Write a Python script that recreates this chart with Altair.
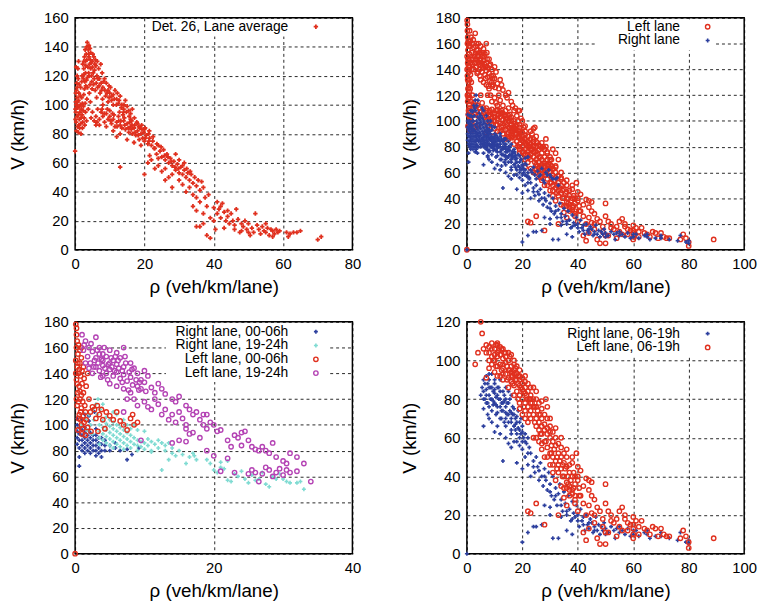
import altair as alt
import pandas as pd

# ---------------- data ----------------
# Panel 1: detector 26, lane average  (rho [veh/km/lane], V [km/h])
AVG = [
    (0.2,95),(0.3,100),(0.5,105),(0.4,110),(0.3,88),(0.6,92),(0.8,98),(1.0,103),(0.7,85),(1.2,90),
    (1.4,95),(1.1,108),(0.5,115),(0.9,118),(1.5,100),(1.8,97),(1.6,112),(2.0,93),(2.2,88),(1.9,105),
    (0.4,82),(1.3,84),(2.4,99),(2.6,91),(0.2,102),(0.1,97),(0.6,120),(2.8,86),(1.7,80),(3.0,95),
    (3.3,89),(2.5,107),(0.8,125),(1.0,130),(0.3,126),(0,68),(0.1,90),(0.9,93),(1.6,87),(2.1,101),
    (2,120),(2.5,125),(3,130),(3.2,135),(3.5,143),(3.8,138),(4,133),(4.2,128),(3,122),(4.5,125),
    (5,130),(5.2,122),(5.5,118),(6,127),(6.3,120),(6.8,125),(7,118),(7.5,115),(7.8,122),(8,112),
    (4.8,116),(3.6,112),(2.8,116),(4,120),(5.8,110),(6.5,112),(2.2,128),(4.5,136),(5,126),(3.3,117),
    (4.1,108),(6.2,105),(5.4,133),(2.7,133),(8.5,118),(9,115),(9.5,110),(7.2,108),(8.8,106),(3.7,126),
    (3.1,127),(4.4,131),(5.6,124),(6.6,118),(3.9,122),(4.7,120),(2.4,118),(7.4,128),(5.9,131),(4.3,139),
    (10,108),(10.5,103),(11,107),(11.5,110),(12,104),(12.5,101),(13,106),(13.5,100),(14,97),(14.5,103),
    (15,99),(15.5,96),(16,94),(11,100),(9.5,102),(12.8,95),(16.5,97),(10.2,112),(12.2,108),(9.8,105),
    (5,95),(6,92),(6.5,97),(7,90),(7.5,95),(8,92),(8.5,88),(9,94),(9.5,90),(10,92),
    (10.5,87),(11,90),(11.5,85),(12,88),(12.5,92),(13,86),(13.5,84),(14,89),(14.5,83),(15,87),
    (15.5,81),(16,85),(16.5,80),(17,84),(17.5,79),(18,82),(18.5,76),(19,80),(19.5,77),(20,75),
    (20.5,79),(21,73),(21.5,77),(22,72),(13,80),(11,82),(9,85),(7,86),(16,90),(18,87),
    (19,72),(12,78),(15,76),(17,74),(14,95),(20,83),(22.5,78),(6,86),(8,100),(10,96),(13,57),
    (10.8,94),(12.6,89),(14.2,91),(15.8,88),(17.2,86),(18.6,84),(19.8,81),(21.2,80),(13.8,93),(16.2,83),
    (0.5,98),(0.7,102),(1.1,86),(1.3,99),(1.7,91),(2.3,96),(2.9,101),(3.4,104),(0.2,108),(0.6,112),
    (1.2,114),(1.9,116),(2.6,121),(3.1,113),(3.6,119),(4.3,114),(4.9,111),(5.3,114),(6.1,115),(6.9,113),
    (7.6,110),(8.2,116),(3.4,131),(3.9,135),(4.6,129),(5.1,135),(5.7,128),(6.4,130),(2.9,138),(3.3,140),
    (4.0,141),(2.5,130),(7.9,104),(8.6,110),(9.2,108),(9.8,113),(10.6,106),(11.3,104),(11.9,100),(12.7,103),
    (13.3,98),(14.1,100),(14.8,95),(15.6,92),(16.3,89),(17.1,91),(17.8,88),(18.4,85),(19.2,86),(20.2,84),
    (21.4,82),(22.4,75),(7.8,97),(8.4,94),(9.3,97),(10.3,89),(11.2,93),(12.1,85),(13.2,89),(14.3,86),
    (15.3,84),(16.4,86),(17.3,81),(18.2,79),(19.3,83),(20.3,77),(21.3,75),(22.8,70),(23.6,73),(24.8,71),
    (25.8,65),(26.8,64),(27.8,61),(28.8,57),(29.8,56),(31.0,58),(32.2,56),(33.2,54),(5.5,89),(6.3,88),
    (4.6,91),(3.8,97),(4.4,102),(2.1,84),(0.9,81),(1.5,106),(2.7,111),
    (23,70),(23.5,66),(24,72),(24.5,68),(25,64),(25.5,69),(26,62),(26.5,66),(27,60),(27.5,63),
    (28,58),(28.5,61),(29,55),(29.5,59),(30,53),(30.5,57),(31,52),(31.5,55),(32,50),(32.5,53),
    (33,48),(33.5,52),(34,46),(34.5,50),(35,44),(21,60),(22,62),(23,56),(24,58),(25,54),
    (26,56),(27,50),(28,52),(29,66),(30,62),(31,45),(32,40),(33,43),(34,38),(26,48),
    (24,63),(21.5,65),(20,52),(28,43),(30,48),(31.5,60),(35.5,48),(36.5,47),(37,43),(36,41),(35,36),
    (34,30),(35,27),(36,33),(37,25),(38,30),(37.5,36),(38.5,38),(39,22),(36,16),(35,16),
    (37,18),(38,10),(39,8),(40,20),(40.5,14),(41,25),(41.5,28),(42,22),(42.5,32),(43,26),
    (43.5,20),(44,23),(44.5,18),(45,25),(45.5,20),(46,17),(46.5,28),(47,21),(47.5,12),(48,18),
    (48.5,16),(49,20),(49.5,14),(50,18),(50.5,10),(42,30),(41,33),(44,27),(43,15),(46,14),
    (48,13),(40,29),(51,15),(51.5,12),(52,25),(52.5,17),(53,14),(53.5,11),(54,16),(54.5,13),
    (55,12),(55.5,15),(56,10),(56.5,14),(57,13),(57.5,11),(58,14),(58.5,12),(59,13),(61,12),
    (61.5,9),(62,11),(63,12),(64,12),(65,13),(50,12),(55,18),(57,9),(70,7),(71,9),
]

# Panel 3 series (night hours)
RIGHT_00_06 = [
    (0.3,85),(0.3,90),(0.3,95),(0.3,100),(0.3,105),(0.6,68),(0.6,75),(0.6,82),(0.6,88),(0.6,93),(0.6,98),
    (1.0,80),(1.0,84),(1.0,88),(1.0,92),(1.0,96),(1.0,104),(1.4,78),(1.4,82),(1.4,86),(1.4,90),(1.4,94),
    (1.4,98),(1.4,108),(1.8,80),(1.8,84),(1.8,88),(1.8,92),(1.8,96),(2.2,78),(2.2,82),(2.2,86),(2.2,90),
    (2.2,94),(2.2,100),(2.6,80),(2.6,84),(2.6,88),(2.6,92),(3.0,76),(3.0,80),(3.0,84),(3.0,88),(3.0,92),
    (3.0,97),(3.4,78),(3.4,82),(3.4,86),(3.4,90),(3.8,75),(3.8,80),(3.8,85),(3.8,90),(4.3,80),(4.3,84),
    (4.3,88),(5.0,80),(5.0,84),(5.8,82),(5.8,86),(6.5,80),(7.5,73),(7.5,81),(8.2,77),(9.2,82),(2.0,103),
    (2.0,107),(2.8,110),
]
RIGHT_19_24 = [
    (1,100),(1.5,104),(2,108),(2.5,112),(3,116),(3.3,120),(1.8,96),(2.2,100),(2.7,104),(3.2,108),(3.6,112),
    (4,116),(3.5,85),(3.5,90),(3.5,95),(3.5,100),(4,88),(4,93),(4,98),(4,103),(4.5,86),(4.5,91),(4.5,96),
    (4.5,101),(4.5,106),(5,84),(5,89),(5,94),(5,99),(5,104),(5.5,82),(5.5,87),(5.5,92),(5.5,97),(5.5,102),
    (6,85),(6,90),(6,95),(6,100),(6.5,83),(6.5,88),(6.5,93),(6.5,98),(7,81),(7,86),(7,91),(7,96),(7.5,84),
    (7.5,89),(7.5,94),(8,82),(8,87),(8,92),(8.5,85),(8.5,90),(9,80),(9,84),(9,88),(9.5,83),(9.5,87),
    (10,81),(10,86),(10.5,84),(10.5,89),(11,80),(11,87),(11.5,85),(12,82),(12,88),(12.5,86),(13,80),
    (13,84),(13.5,86),(14,78),(14,82),(15,80),(15.5,77),(16,70),(16.5,75),(17,78),(17.2,76),(17.5,73),
    (12.5,65),(13.5,73),(14.5,76),(11,79),(10,95),(9,96),(8.5,100),(2.5,93),(5.5,110),(6,108),(7,104),
    (7.5,100),(8,97),(19,73),(19.5,70),(20,65),(20.5,63),(21,67),(21.5,66),(22,57),(22.5,56),(23,62),
    (23.5,60),(24,64),(24.5,58),(25,55),(25.5,61),(26,57),(26.5,58),(27,63),(27.5,54),(28,52),(28.5,60),
    (29,58),(29.5,62),(30,58),(30.5,56),(31,55),(32,55),(32.5,56),(33,50),(21,71),(22,72),
]
LEFT_00_06 = [
    (0,0),(0.1,178),(0.2,175),(0.3,165),(0.2,160),(0.4,155),(0.1,150),(0.3,145),(0.5,140),(0.2,135),
    (0.6,130),(0.4,125),(0.7,120),(0.3,115),(0.8,110),(0.5,105),(0.9,100),(0.4,96),(1.0,93),(0.6,143),
    (0.8,138),(1.0,132),(0.7,126),(1.1,118),(0.9,113),(1.2,107),(1.3,102),(1.1,97),(0.2,170),(0.5,162),
    (0.7,148),(0.9,152),(1.2,125),(1.4,115),(1.5,110),(1.6,104),(1.8,98),(1.3,136),(1.6,130),(2,120),
    (1.5,92),(2.2,110),(2.5,114),(2.8,112),(3,105),(3.2,115),(3.5,108),(3.8,112),(4,104),(4.5,110),
    (5,107),(5.5,104),(6,110),(6.5,103),(7,100),(7.5,96),(8,105),(8.5,100),(9,102),(8.3,108),
    (4.3,97),(3.3,95),(2.3,95),(1.8,140),(1.2,145),(0.9,160),(0.1,140),(0.3,132),(0.5,118),(0.6,108),
    (0.2,120),(0.4,148),(0.7,158),(0.8,104),(0.9,123),(1.0,142),
]
LEFT_19_24 = [
    (1,170),(1.5,165),(2,160),(1.2,158),(3,168),(3.5,160),(2.5,157),(1.8,153),(2.2,148),(3,152),
    (3.5,155),(4,150),(4.5,153),(5,148),(5.5,150),(6,147),(6.5,152),(7,145),(3,145),(3.5,142),
    (4,146),(4.5,140),(5,143),(5.5,138),(6,141),(6.5,136),(7,139),(7.5,134),(8,137),(2.5,140),
    (2,144),(1.5,148),(4,155),(5,158),(6,156),(7,160),(8,148),(8.5,144),(9,140),(9.5,135),
    (10,142),(10.5,138),(9,130),(9.5,128),(10,133),(11,129),(11.5,125),(12,132),(12.5,128),(13,124),
    (14,120),(14.5,118),(15,122),(16,115),(16.5,112),(17,108),(17.5,110),(18,104),(18.5,100),(19,97),
    (19.5,102),(20,100),(20.5,95),(21,96),(22,88),(23,92),(24,94),(24.5,95),(25,88),(25.5,83),
    (26,81),(26.5,80),(27,83),(27.5,80),(28,78),(28.5,86),(29,75),(30,72),(30.5,70),(31,78),
    (32,75),(33,70),(34,56),(14,86),(15,88),(16,87),(17,94),(18,90),(16,97),(19,80),
    (20,76),(21,64),(22,74),(23,63),(24,84),(25,62),(25.5,65),(26,63),(26.5,56),(27,62),
    (27.5,67),(28,65),(28.5,60),(29,63),(29.5,66),(30,61),(30.5,65),(31,63),(32,64),(22.5,83),
    (23.5,90),(8,125),(8.5,120),(9,115),(10,118),(10.5,114),(11,112),(11.5,120),(12,116),(12.5,108),
    (13,112),(13.5,104),(14,108),(14.5,102),(15,110),(15.5,105),(16,100),(7,110),(7.5,120),(6,130),
    (5,132),(7,128),(4,138),(9.5,88),(16.5,93),(18.5,108),(19,108),
    (1.3,162),(2.3,163),(2.8,150),(3.3,148),(3.8,151),(4.3,144),(4.8,147),(5.3,145),(5.8,153),(6.3,144),
    (6.8,142),(7.3,148),(7.8,141),(8.3,131),(8.8,135),(9.3,133),(2.7,145),(3.7,137),(4.7,135),(5.7,142),
    (6.8,133),(7.7,127),(3.2,158),(4.2,160),(5.2,152),(6.2,150),(7.2,153),(8.2,143),(9.2,127),(10.2,126),
]

# Panel 4 series (day hours)
RIGHT_06_19 = [
    (0,0),(5,82),(6,84),(6.5,80),(7,85),(7,78),(7.5,88),(8,82),(8,76),(8.5,86),(9,80),(9,74),(9.5,84),
    (10,78),(10,88),(10.5,72),(11,82),(11,76),(11.5,86),(12,80),(12,70),(12.5,74),(13,84),(13,78),
    (13.5,68),(14,76),(14,80),(14.5,72),(15,78),(15,68),(15.5,74),(16,70),(16,64),(16.5,76),(17,72),
    (17,66),(17.5,70),(18,62),(18,68),(18.5,74),(19,64),(19,60),(19.5,70),(20,66),(20,58),(7,92),
    (8,90),(9,93),(10,90),(6,75),(7.5,72),(9,68),(11,66),(6,66),(12,62),(14,60),(16,55),(17,58),
    (18,47),(13,48),(15,57),(12,90),(14,86),(16,82),(8,70),(10,63),(21,62),(21.5,57),(22,60),
    (22.5,55),(23,52),(21,50),(20,44),(22,46),(23,40),(24,48),(24.5,42),(25,50),(25.5,45),(26,38),
    (26.5,47),(27,40),(27.5,35),(28,44),(28.5,38),(29,33),(29.5,42),(30,36),(30.5,30),(31,40),
    (31.5,28),(32,34),(32.5,25),(33,31),(33.5,36),(34,28),(34.5,22),(35,32),(35.5,26),(36,20),
    (36.5,30),(37,23),(37.5,17),(38,27),(38.5,21),(39,19),(39.5,25),(40,20),(40.5,14),(41,23),
    (41.5,17),(42,19),(42.5,12),(43,20),(43.5,15),(44,13),(44.5,18),(45,16),(45.5,11),(46,14),
    (46.5,19),(47,12),(47.5,15),(48,10),(48.5,14),(49,12),(49.5,16),(50,13),(51,11),(52,14),
    (53,12),(53.5,8),(54,13),(55,11),(56,12),(57,10),(58,13),(59,9),(60,10),(61,12),(62,9),
    (64,11),(65,10),(66,8),(68,9),(70,11),(73,8),(76,7),(77,11),(79,6),(80,5),(80,7),(22,11),
    (20,6),(25,14),(27,15),(24,14),(30,20),(31,8),(33,8),(34,19),(28,25),(30,24),(36,12),(38,10),
    (11,73),(12.5,78),(13.5,82),(15,84),(9.5,77),(10.5,81),(14,70),(16,73),(17.5,64),(19,56),
    (5.5,86),(6,80),(6.5,88),(7,82),(7.5,78),(8,86),(8.5,80),(9,86),(9.5,79),(10,83),
    (10.5,77),(11,86),(11.5,80),(12,84),(12.5,70),(13,74),(13.5,79),(14,73),(14.5,78),(15,72),
    (15.5,80),(16,68),(16.5,72),(17,75),(17.5,67),(18,71),(18.5,65),(19,68),(19.5,62),(20,63),
    (20.5,60),(21,58),(6,90),(8,93),(10,85),(12,76),(14,66),(16,62),(18,58),(20,54),
    (22,52),(24,45),(26,43),(28,40),(30,32),(32,30),(34,25),(36,22),(38,18),(40,17),
    (42,15),(44,16),(46,12),(50,10),(55,14),(60,12),(65,12),(70,9),
]
LEFT_06_19 = [
    (5,120),(5.5,114),(3,98),(4,104),(7,91),(8,96),(9,102),(8,107),(9,109),(10,106),(10.5,108),(11,109),
    (11.5,105),(12,103),(12,98),(13,101),(13,96),(13.5,104),(14,99),(14,93),(14.5,97),(15,100),(15,91),
    (15.5,95),(16,89),(16,97),(16.5,92),(17,87),(17,95),(17.5,90),(18,84),(18,93),(18.5,88),(19,82),
    (19,90),(19.5,86),(20,80),(20,88),(20.5,84),(21,78),(21,86),(21.5,82),(22,76),(22,84),(22.5,80),
    (23,74),(23,82),(23.5,78),(24,72),(24,80),(24.5,76),(25,70),(25,80),(25.5,74),(26,68),(26,78),
    (26.5,72),(27,66),(27,75),(28,64),(28,72),(28.5,80),(29,62),(29,70),(30,60),(30,66),(30.5,56),
    (31,63),(31.5,54),(32,60),(32.5,50),(33,57),(33.5,48),(34,55),(34.5,46),(35,52),(35.5,44),(36,50),
    (36.5,40),(37,46),(37.5,38),(38,50),(38.5,42),(39,36),(39.5,52),(40,40),(40.5,34),(41,43),(10,94),
    (11,97),(12,92),(9,98),(7,104),(6,106),(8,100),(10,100),(16,103),(17,100),(18,97),(19,95),(20,91),
    (21,92),(22,88),(24,86),(23,78),(25,66),(26,64),(27,62),(28,58),(29,55),(30,52),(31,50),(32,48),
    (33,46),(34,44),(35,40),(36,37),(37,33),(38,31),(39,30),(20,72),(21,70),(19,75),(22,68),(24,60),
    (26,58),(27,54),(28,50),(30,46),(31,42),(32,38),(34,35),(33,20),(28,15),(23,21),(22,22),(25,26),
    (35,29),(36,34),(41,30),(42,26),(43,39),(44,38),(44,33),(45,30),(46,28),(42,35),(43,20),(44,25),
    (45,37),(47,24),(48,22),(46,20),(49,18),(50,26),(50,36),(51,22),(52,20),(49,14),(50,11),(48,5),
    (50,5),(53,16),(54,18),(55,22),(55,14),(56,24),(57,18),(57,20),(58,16),(59,15),(60,19),(60,13),
    (60,10),(60,8),(60,15),(61,17),(62,10),(63,17),(64,13),(65,12),(66,10),(67,14),(68,13),(69,9),
    (70,13),(71,10),(72,9),(73,9),(77,8),(78,12),(79,9),(80,3),(80,6),(89,8),(42,11),(43,7),(44,13),
    (46,16),(47,8),(51,11),(52,17),(54,9),(56,12),(58,12),(62,14),(45,21),(40,22),(39,26),(38,33),
    (36,25),(37,35),(11,102),(12.5,106),(14,104),(15.5,102),(13,93),(16,94),(17.5,96),(18.5,92),
    (7,108),(8,104),(9,106),(10,103),(11,104),(12,107),(13,98),(14,102),(15,95),(16,92),
    (17,93),(18,90),(19,87),(20,85),(21,83),(22,80),(23,80),(24,76),(25,76),(26,72),
    (27,70),(28,67),(29,65),(30,63),(31,58),(32,56),(33,52),(34,50),(35,47),(36,45),
    (37,42),(38,40),(39,40),(40,38),(9.5,100),(10.5,97),(12.5,95),(14.5,90),(16.5,88),(18.5,80),
    (20.5,76),(22.5,72),(24.5,68),(26.5,62),(28.5,58),(30.5,52),(32.5,44),(34.5,40),(36.5,36),(38.5,34),
    (40.5,30),(11,92),(13,90),(15,86),(17,82),(19,78),(21,74),(23,70),(25,60),(27,57),
    (29,50),(31,46),(33,42),(35,34),(37,30),(39,28),(11,108),(13,106),(15,104),(17,98),
    (19,92),(21,89),(23,86),(25,84),(27,79),(29,76),(30,70),(32,65),(34,60),(36,54),
    (38,47),(40,45),
]

# Panel 2 is the whole day: union of the night and day series
LEFT_ALL = LEFT_00_06 + LEFT_19_24 + LEFT_06_19
RIGHT_ALL = RIGHT_00_06 + RIGHT_19_24 + RIGHT_06_19

# ---------------- styling ----------------
RED = "#e0301e"
BLUE = "#2c3f9e"
CYAN = "#7fdbd2"
MAG = "#b443b4"
FONT = "Liberation Sans"
W, H = 281, 235

STY = {
    "avg": dict(shape="cross", filled=True, color=RED, size=20),
    "left": dict(shape="circle", filled=False, color=RED, size=20, strokeWidth=1.4),
    "right": dict(shape="cross", filled=True, color=BLUE, size=16),
    "cyan": dict(shape="cross", filled=True, color=CYAN, size=16),
    "mag": dict(shape="circle", filled=False, color=MAG, size=20, strokeWidth=1.4),
}


def points(data, style, xmax, ymax, xstep, ystep):
    df = pd.DataFrame(data, columns=["rho", "v"])
    return alt.Chart(df).mark_point(opacity=1, **STY[style]).encode(
        x=alt.X("rho:Q", title="ρ (veh/km/lane)",
                scale=alt.Scale(domain=[0, xmax], nice=False),
                axis=alt.Axis(values=list(range(0, xmax + 1, xstep)))),
        y=alt.Y("v:Q", title="V (km/h)",
                scale=alt.Scale(domain=[0, ymax], nice=False),
                axis=alt.Axis(values=list(range(0, ymax + 1, ystep)))),
    )


def legend(entries, box, text_x=216, sym_x=244, y0=9, dy=14):
    one = pd.DataFrame({"k": [0]})
    x1, x2, y1, y2 = box
    layers = [alt.Chart(one).mark_rect(color="white").encode(
        x=alt.value(x1), x2=alt.value(x2), y=alt.value(y1), y2=alt.value(y2))]
    for i, (label, style) in enumerate(entries):
        y = y0 + i * dy
        layers.append(alt.Chart(one).mark_text(
            align="right", baseline="middle", font=FONT, fontSize=14, color="black"
        ).encode(x=alt.value(text_x), y=alt.value(y), text=alt.value(label)))
        layers.append(alt.Chart(one).mark_point(opacity=1, **STY[style]).encode(
            x=alt.value(sym_x), y=alt.value(y)))
    return layers


def panel(series, entries, box, xmax, ymax, xstep, ystep, y0=9):
    leg = legend(entries, box, y0=y0)
    pts = [points(d, s, xmax, ymax, xstep, ystep) for d, s in series]
    # background box first, then data, then legend text/symbols
    return alt.layer(leg[0], *pts, *leg[1:]).properties(width=W, height=H)


p1 = panel([(AVG, "avg")], [("Det. 26, Lane average", "avg")],
           (72, 258, 1.5, 19), 80, 160, 20, 20)
p2 = panel([(LEFT_ALL, "left"), (RIGHT_ALL, "right")],
           [("Left lane", "left"), ("Right lane", "right")],
           (131, 251, 1.5, 33), 100, 180, 20, 20)
p3 = panel([(RIGHT_00_06, "right"), (RIGHT_19_24, "cyan"), (LEFT_00_06, "left"), (LEFT_19_24, "mag")],
           [("Right lane, 00-06h", "right"), ("Right lane, 19-24h", "cyan"),
            ("Left lane, 00-06h", "left"), ("Left lane, 19-24h", "mag")],
           (92, 257, 1.5, 61), 40, 180, 20, 20, y0=10)
p4 = panel([(RIGHT_06_19, "right"), (LEFT_06_19, "left")],
           [("Right lane, 06-19h", "right"), ("Left lane, 06-19h", "left")],
           (92, 257, 1.5, 34), 100, 120, 20, 20, y0=12)

chart = alt.vconcat(
    alt.hconcat(p1, p2, spacing=38),
    alt.hconcat(p3, p4, spacing=38),
    spacing=17,
).properties(
    padding={"top": -2, "left": 0, "right": 0, "bottom": 0}
).configure_view(stroke="black", strokeWidth=1.5).configure_axis(
    labelFont=FONT, labelFontSize=15, labelColor="black", labelPadding=7,
    titleFont=FONT, titleFontSize=19, titleFontWeight="normal", titleColor="black",
    domain=False, ticks=False, grid=True, gridColor="black", gridDash=[3, 3],
    gridWidth=1, gridOpacity=0.85,
).configure_axisX(titlePadding=6, labelFlush=False).configure_axisY(titlePadding=16)

chart.save("out.html", embed_options={"renderer": "svg", "actions": False})
